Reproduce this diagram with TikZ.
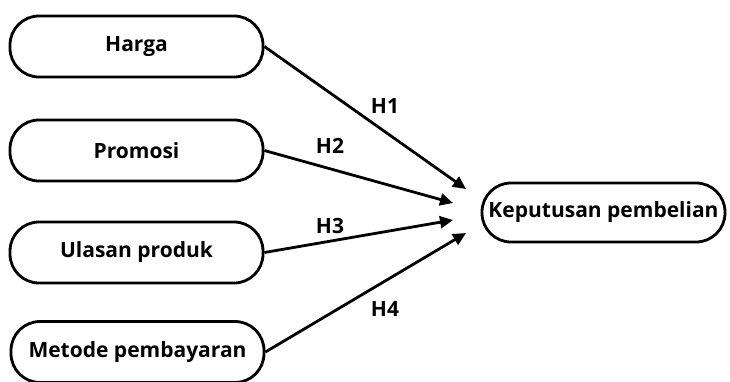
\documentclass[tikz,border=0pt]{standalone}
\usepackage{fontspec}
\setmainfont{Open Sans}
\usetikzlibrary{arrows.meta}
\begin{document}
\begin{tikzpicture}[x=1pt,y=-1pt,
  varbox/.style={draw=black,line width=2.8pt,rounded corners=29pt,fill=white,
    minimum width=253pt,minimum height=61pt,inner sep=0pt,
    font=\bfseries\fontsize{21}{24}\selectfont},
  outbox/.style={varbox,minimum width=243pt,minimum height=59pt},
  link/.style={line width=2.8pt,-{Triangle[length=13pt,width=12pt]}},
  hlabel/.style={font=\bfseries\fontsize{21}{24}\selectfont}]
\useasboundingbox (0,0) rectangle (730,381);
\node[varbox] (harga) at (136.5,46.5) {Harga};
\node[varbox] (promosi) at (136.5,150.5) {Promosi};
\node[varbox] (ulasan) at (136.5,252.5) {Ulasan produk};
\node[varbox] (metode) at (137.5,352) {Metode pembayaran};
\node[outbox] (kep) at (603.5,212.5) {Keputusan pembelian};
\coordinate (t1) at (466,189);
\coordinate (t2) at (453,203);
\coordinate (t3) at (453,220);
\coordinate (t4) at (466,233);
\draw[link] (harga.east) -- (t1);
\draw[link] (promosi.east) -- (t2);
\draw[link] (ulasan.east) -- (t3);
\draw[link] (metode.east) -- (t4);
\node[hlabel] (h1) at (385,106) {H1};
\node[hlabel] (h2) at (330,146) {H2};
\node[hlabel] (h3) at (330,226) {H3};
\node[hlabel] (h4) at (385,309) {H4};
\end{tikzpicture}
\end{document}
